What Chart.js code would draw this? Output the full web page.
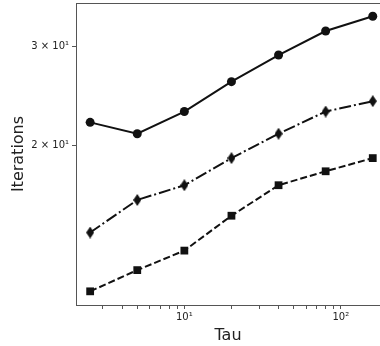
<!DOCTYPE html>
<html>
<head>
<meta charset="utf-8">
<script src="https://cdn.jsdelivr.net/npm/chart.js@4"></script>
<style>
  html, body { margin: 0; padding: 0; background: #fff; }
  #wrap { width: 380px; height: 346px; }
</style>
</head>
<body>
<div id="wrap"><canvas id="myCanvas" width="380" height="346"></canvas></div>
<script>
// values
const taus = [2.5, 5, 10, 20, 40, 80, 160];
const circleIters = [22, 21, 23, 26, 29, 32, 34];
const diamondIters = [14, 16, 17, 19, 21, 23, 24];
const squareIters = [11, 12, 13, 15, 17, 18, 19];

const xTicks = [3, 4, 5, 6, 7, 8, 9, 10, 20, 30, 40, 50, 60, 70, 80, 90, 100];
const xTickLabels = { 10: '10\u00B9', 100: '10\u00B2' };
const yTicks = [20, 30];
const yTickLabels = { 20: '2 \u00D7 10\u00B9', 30: '3 \u00D7 10\u00B9' };

const ink = '#111';
const spine = '#555';

// thin diamond marker
const thinDiamond = document.createElement('canvas');
thinDiamond.width = 8;
thinDiamond.height = 12;
{
    const c = thinDiamond.getContext('2d');
    c.fillStyle = ink;
    c.beginPath();
    c.moveTo(4, 0);
    c.lineTo(8, 6);
    c.lineTo(4, 12);
    c.lineTo(0, 6);
    c.closePath();
    c.fill();
}

const toPoints = ys => taus.map((t, i) => ({ x: t, y: ys[i] }));

// top spine only; the right one falls outside the cropped picture
const frame = {
    id: 'frame',
    afterDraw(chart) {
        const a = chart.chartArea;
        const ctx = chart.ctx;
        ctx.save();
        ctx.strokeStyle = spine;
        ctx.lineWidth = 1;
        ctx.beginPath();
        ctx.moveTo(Math.round(a.left), Math.round(a.top) + 0.5);
        ctx.lineTo(chart.width, Math.round(a.top) + 0.5);
        ctx.stroke();
        ctx.restore();
    }
};

const dataConfig = {
    datasets: [{
        data: toPoints(circleIters),
        borderColor: ink,
        backgroundColor: ink,
        borderWidth: 2,
        pointStyle: 'circle',
        pointRadius: 4.5,
        pointBorderWidth: 0
    }, {
        data: toPoints(diamondIters),
        borderColor: ink,
        backgroundColor: ink,
        borderWidth: 2,
        borderDash: [12, 3, 2, 3],
        pointStyle: thinDiamond
    }, {
        data: toPoints(squareIters),
        borderColor: ink,
        backgroundColor: ink,
        borderWidth: 2,
        borderDash: [7, 3],
        pointStyle: 'rect',
        pointRadius: 5.5,
        pointBorderWidth: 0
    }]
};

const config = {
    type: 'line',
    data: dataConfig,
    plugins: [frame],
    options: {
        responsive: false,
        animation: false,
        layout: { autoPadding: false, padding: { top: 3, right: 0, left: 0, bottom: 0 } },
        plugins: { legend: { display: false }, tooltip: { enabled: false } },
        scales: {
            x: {
                type: 'logarithmic',
                min: 2.03,
                max: 178,
                afterFit(scale) {
                    scale.height = 41;
                    scale.paddingLeft = 0;
                    scale.paddingRight = 0;
                },
                afterBuildTicks(scale) { scale.ticks = xTicks.map(v => ({ value: v })); },
                ticks: {
                    autoSkip: false,
                    maxRotation: 0,
                    padding: 2,
                    color: '#222',
                    font: { family: 'DejaVu Sans', size: 10 },
                    callback: v => xTickLabels[v] || ''
                },
                grid: { drawOnChartArea: false, tickLength: 4, color: spine },
                border: { color: spine },
                title: {
                    display: true,
                    text: 'Tau',
                    color: '#222',
                    font: { family: 'DejaVu Sans', size: 16 },
                    padding: { top: 0, bottom: 1 }
                }
            },
            y: {
                type: 'logarithmic',
                min: 10.4,
                max: 35.9,
                afterFit(scale) {
                    scale.width = 76;
                    scale.paddingTop = 0;
                    scale.paddingBottom = 0;
                },
                afterBuildTicks(scale) { scale.ticks = yTicks.map(v => ({ value: v })); },
                ticks: {
                    autoSkip: false,
                    padding: 3,
                    color: '#222',
                    font: { family: 'DejaVu Sans', size: 10 },
                    callback: v => yTickLabels[v] || ''
                },
                grid: { drawOnChartArea: false, tickLength: 4, color: spine },
                border: { color: spine },
                title: {
                    display: true,
                    text: 'Iterations',
                    color: '#222',
                    font: { family: 'DejaVu Sans', size: 16 },
                    padding: { top: 9, bottom: 0 }
                }
            }
        }
    }
};

const myChart = new Chart(document.getElementById('myCanvas'), config);
</script>
</body>
</html>
